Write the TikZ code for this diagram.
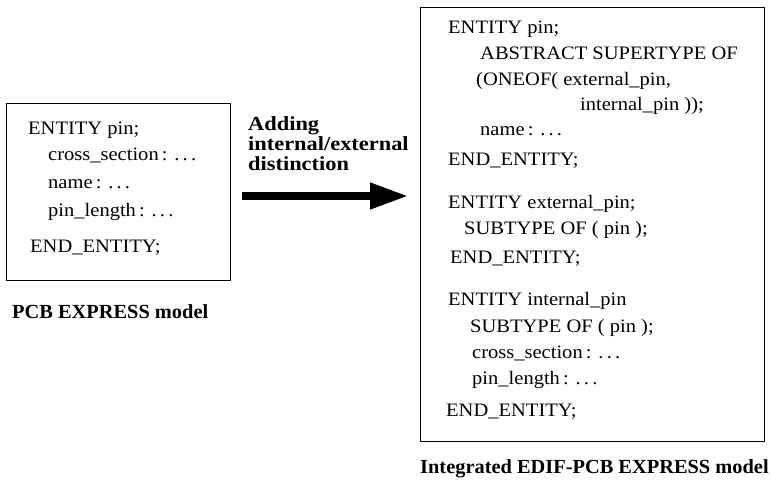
\documentclass[tikz,border=0pt]{standalone}
\usepackage{fontspec}
\setmainfont{Liberation Serif}
\newfontfamily\codefont{Liberation Serif}[FakeStretch=1.08]
\newfontfamily\labelfont{Liberation Serif}[FakeStretch=1.02]
\newfontfamily\notefont{Liberation Serif}[FakeStretch=1.12]
\usetikzlibrary{arrows.meta}

\tikzset{
  code/.style={anchor=base west, inner sep=0pt, font=\codefont\fontsize{19}{26}\selectfont},
  caption/.style={anchor=base west, inner sep=0pt, font=\labelfont\bfseries\fontsize{20}{20}\selectfont},
  note/.style={anchor=base west, inner sep=0pt, font=\notefont\bfseries\fontsize{20}{20}\selectfont},
  frame/.style={draw, line width=1.1pt, inner sep=0pt, anchor=north west},
  bigarrow/.style={line width=7.5pt, -{Triangle[length=38pt, width=25pt]}},
}

\begin{document}
\begin{tikzpicture}[x=1pt, y=-1pt]
  \useasboundingbox (0,0) rectangle (772,483);

  % ---- left model: single entity ----
  \node[frame, minimum width=224pt, minimum height=177pt] (pcbbox) at (6,103) {};
  \node[code] (l1) at (28,134) {ENTITY pin;};
  \node[code] (l2) at (48,160) {cross\_section\,: .\,.\,.};
  \node[code] (l3) at (48,188) {name\,: .\,.\,.};
  \node[code] (l4) at (48,216) {pin\_length\,: .\,.\,.};
  \node[code] (l5) at (30,252) {END\_ENTITY;};
  \node[caption] (pcbcap) at (12,318) {PCB EXPRESS model};

  % ---- transformation arrow ----
  \node[note] (a1) at (248,130) {Adding};
  \node[note] (a2) at (248,150) {internal/external};
  \node[note] (a3) at (248,170) {distinction};
  \coordinate (arrstart) at (242,196);
  \coordinate (arrtip) at (408,196);
  \draw[bigarrow] (arrstart) -- (arrtip);

  % ---- right model: supertype with two subtypes ----
  \node[frame, minimum width=344pt, minimum height=434pt] (edifbox) at (420,7) {};
  \node[code] (r1) at (448,33) {ENTITY pin;};
  \node[code] (r2) at (480,59) {ABSTRACT SUPERTYPE OF};
  \node[code] (r3) at (476,85) {(ONEOF( external\_pin,};
  \node[code] (r4) at (580,110) {internal\_pin ));};
  \node[code] (r5) at (480,135) {name\,: .\,.\,.};
  \node[code] (r6) at (448,165) {END\_ENTITY;};

  \node[code] (r7) at (448,208) {ENTITY external\_pin;};
  \node[code] (r8) at (464,234) {SUBTYPE OF ( pin );};
  \node[code] (r9) at (450,263) {END\_ENTITY;};

  \node[code] (r10) at (448,305) {ENTITY internal\_pin};
  \node[code] (r11) at (470,332) {SUBTYPE OF ( pin );};
  \node[code] (r12) at (472,358) {cross\_section\,: .\,.\,.};
  \node[code] (r13) at (472,384) {pin\_length\,: .\,.\,.};
  \node[code] (r14) at (446,416) {END\_ENTITY;};
  \node[caption] (edifcap) at (420,473) {Integrated EDIF-PCB EXPRESS model};
\end{tikzpicture}
\end{document}
